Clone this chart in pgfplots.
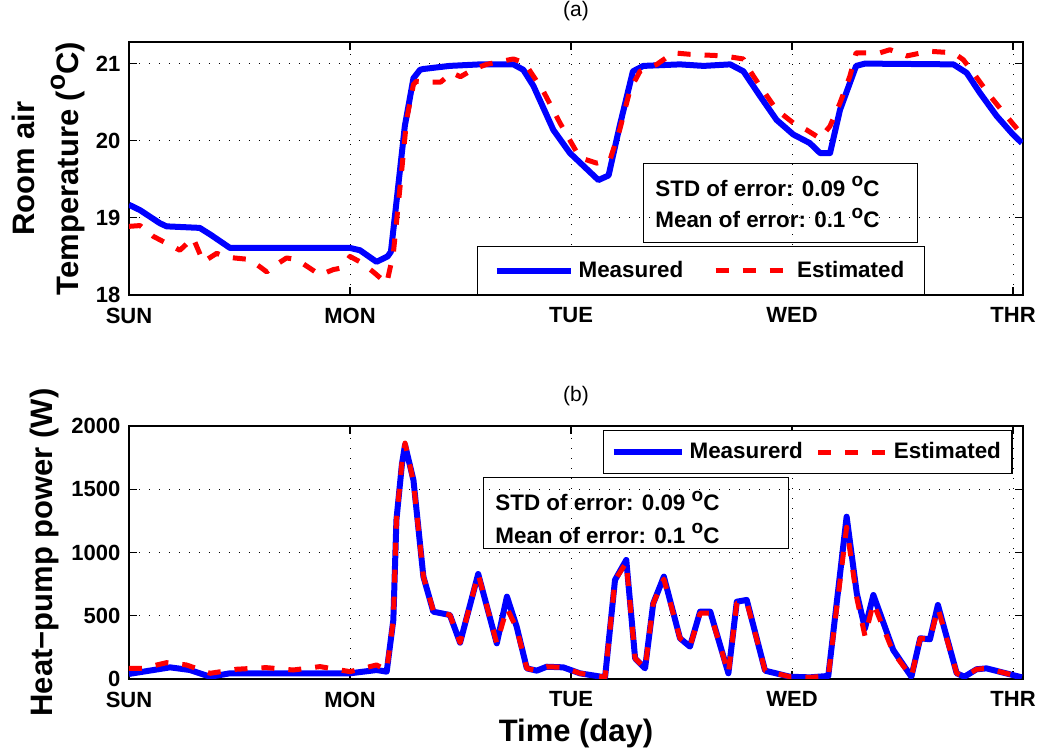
\documentclass[border=0pt]{standalone}
\usepackage{fontspec}
\setmainfont{Liberation Sans}
\usepackage{pgfplots}
\pgfplotsset{compat=1.18}

\newcommand{\dg}{\raisebox{0.42em}{\scalebox{0.85}{o}}}

\pgfplotsset{
  panel/.style={
    scale only axis, width=447pt, height=126.5pt,
    xmin=0, xmax=4.045,
    xtick={0,1,2,3,4}, xticklabels={SUN,MON,TUE,WED,THR},
    tick align=inside,
    grid=major,
    major grid style={black, line width=0.5pt, dash pattern=on 0.5pt off 4.5pt},
    axis line style={line width=0.6pt},
    every tick/.style={black, line width=0.6pt},
    major tick length=4pt,
    ticklabel style={font=\bfseries\fontsize{11}{13}\selectfont},
    xticklabel style={yshift=-2.8pt},
    yticklabel style={xshift=-0.8pt},
    /pgf/number format/assume math mode=true,
    /pgf/number format/1000 sep={},
    title style={font=\fontsize{10.5}{12}\selectfont, at={(axis description cs:0.5,1)}, anchor=base, yshift=6.5pt},
    label style={font=\bfseries\fontsize{15.5}{22}\selectfont},
    legend cell align=left,
    legend style={draw=black, line width=0.6pt, fill=white,
      font=\bfseries\fontsize{11.2}{13}\selectfont, legend columns=2},
  },
  meas/.style={blue, line width=3pt, line join=round},
  est/.style={red, line width=2.5pt, line join=round, dash pattern=on 6.5pt off 7pt},
}
\tikzset{
  boxtxt/.style={font=\bfseries\fontsize{11.2}{13}\selectfont, anchor=base west, inner sep=0pt},
}

\begin{document}
\begin{tikzpicture}
\useasboundingbox (0,0) rectangle (520.5pt,-377pt);

% (a) room air temperature
\begin{axis}[panel,
    at={(64.5pt,-147.5pt)}, anchor=south west,
    ymin=18, ymax=21.28, ytick={18,19,20,21},
    title={(a)},
    ylabel={Room air\\Temperature (\dg C)},
    ylabel style={align=center, at={(axis description cs:-0.0906,0.5)}, anchor=center},
    legend style={at={(axis description cs:0.3893,0.1937)}, anchor=north west,
      inner xsep=8pt, inner ysep=5.25pt,
      /tikz/every odd column/.append style={column sep=0.5pt},
      /tikz/every even column/.append style={column sep=13pt}},
    legend image code/.code={\draw[#1] (0pt,0pt) -- (37pt,0pt);},
  ]
  \addplot[meas] coordinates {
    (0,19.17) (0.05,19.10) (0.14,18.93) (0.17,18.89) (0.32,18.87) (0.37,18.78)
    (0.457,18.61) (1.0,18.61) (1.045,18.58) (1.12,18.43) (1.17,18.50) (1.185,18.56)
    (1.21,19.20) (1.248,20.19) (1.287,20.81) (1.317,20.92) (1.332,20.93) (1.45,20.97)
    (1.588,20.99) (1.739,20.99) (1.784,20.92) (1.83,20.71) (1.92,20.14) (1.995,19.84)
    (2.124,19.49) (2.17,19.55) (2.22,20.19) (2.28,20.90) (2.327,20.97) (2.493,20.99)
    (2.6,20.97) (2.72,20.99) (2.78,20.90) (2.855,20.58) (2.93,20.27) (3.006,20.08)
    (3.08,19.97) (3.127,19.84) (3.172,19.84) (3.217,20.40) (3.29,20.97) (3.33,21.0)
    (3.73,20.99) (3.79,20.88) (3.85,20.62) (3.926,20.32) (4.0,20.08) (4.04,19.97)
  };
  \addplot[est] coordinates {
    (0,18.89) (0.05,18.90) (0.11,18.76) (0.23,18.58) (0.29,18.74) (0.336,18.43)
    (0.397,18.54) (0.442,18.49) (0.548,18.46) (0.623,18.30) (0.653,18.37) (0.713,18.48)
    (0.759,18.46) (0.864,18.26) (0.925,18.33) (0.962,18.35) (1.0,18.50) (1.045,18.43)
    (1.105,18.30) (1.166,18.15) (1.196,18.54) (1.234,19.62) (1.256,20.27) (1.287,20.73)
    (1.30,20.77) (1.362,20.76) (1.41,20.76) (1.46,20.88) (1.50,20.83) (1.56,20.93)
    (1.618,20.99) (1.739,21.06) (1.79,21.01) (1.875,20.64) (1.95,20.23) (2.04,19.78)
    (2.116,19.71) (2.176,19.75) (2.22,20.14) (2.267,20.66) (2.312,20.90) (2.388,20.99)
    (2.463,21.14) (2.54,21.12) (2.69,21.10) (2.78,21.06) (2.795,20.97) (2.855,20.71)
    (2.93,20.40) (3.006,20.23) (3.066,20.14) (3.127,20.03) (3.172,20.19) (3.217,20.49)
    (3.262,20.84) (3.29,21.14) (3.398,21.14) (3.443,21.18) (3.52,21.10) (3.62,21.16)
    (3.73,21.14) (3.775,21.05) (3.82,20.88) (3.896,20.58) (3.97,20.32) (4.04,20.08)
  };
  \legend{Measured, Estimated}
  \node[draw=black, line width=0.6pt, anchor=north west, minimum width=137pt,
        minimum height=39.5pt, inner sep=0pt] at (axis description cs:0.575,0.5217) {};
  \node[boxtxt] at (axis description cs:0.5884,0.391) {STD of error: 0.09 \dg C};
  \node[boxtxt] at (axis description cs:0.5884,0.265) {Mean of error: 0.1 \dg C};
\end{axis}

% (b) heat-pump power
\begin{axis}[panel,
    at={(64.5pt,-339.5pt)}, anchor=south west,
    ymin=0, ymax=2000, ytick={0,500,1000,1500,2000},
    title={(b)},
    xlabel={Time (day)},
    xlabel style={at={(axis description cs:0.5,-0.249)}, anchor=base},
    ylabel={Heat−pump power (W)},
    ylabel style={at={(axis description cs:-0.094,0.5)}, anchor=center},
    legend style={at={(axis description cs:0.5302,0.9842)}, anchor=north west,
      inner xsep=3.5pt, inner ysep=4pt,
      /tikz/every odd column/.append style={column sep=0.5pt},
      /tikz/every even column/.append style={column sep=4.5pt}},
    legend image code/.code={\draw[#1] (0pt,0pt) -- (34pt,0pt);},
  ]
  \addplot[meas] coordinates {
    (0,40) (0.186,92) (0.276,71) (0.367,18) (0.457,45) (1.0,45) (1.12,71) (1.166,58)
    (1.196,466) (1.21,1257) (1.235,1700) (1.249,1850) (1.287,1573) (1.332,809)
    (1.377,532) (1.452,506) (1.498,287) (1.58,830) (1.664,282) (1.71,651) (1.754,414)
    (1.80,84) (1.845,66) (1.89,97) (1.965,92) (2.04,45) (2.154,13) (2.199,783)
    (2.25,941) (2.29,163) (2.335,84) (2.372,598) (2.42,809) (2.493,322) (2.538,256)
    (2.584,532) (2.63,532) (2.712,45) (2.75,611) (2.795,625) (2.878,66) (2.99,18)
    (3.08,13) (3.164,24) (3.247,1283) (3.293,677) (3.33,400) (3.368,664) (3.458,229)
    (3.54,18) (3.58,322) (3.624,314) (3.66,585) (3.745,45) (3.78,18) (3.835,77)
    (3.88,84) (4.04,13)
  };
  \addplot[est] coordinates {
    (0,84) (0.06,84) (0.17,129) (0.26,111) (0.367,45) (0.487,77) (0.62,90) (0.743,71)
    (0.864,98) (1.0,58) (1.12,111) (1.166,70) (1.196,466) (1.21,1257) (1.235,1710)
    (1.249,1865) (1.287,1560) (1.332,809) (1.377,540) (1.452,506) (1.498,287) (1.58,830)
    (1.664,282) (1.71,560) (1.754,400) (1.80,84) (1.845,66) (1.89,97) (1.965,92)
    (2.04,45) (2.154,13) (2.199,783) (2.25,920) (2.29,163) (2.335,84) (2.372,598)
    (2.42,790) (2.493,322) (2.538,256) (2.584,520) (2.63,520) (2.712,45) (2.75,600)
    (2.795,610) (2.878,66) (2.99,18) (3.08,13) (3.164,24) (3.247,1200) (3.293,640)
    (3.33,340) (3.368,600) (3.458,210) (3.54,18) (3.58,322) (3.624,314) (3.66,560)
    (3.745,45) (3.78,18) (3.835,77) (3.88,84) (4.04,13)
  };
  \legend{Measurerd, Estimated}
  \node[draw=black, line width=0.6pt, anchor=north west, minimum width=152.5pt,
        minimum height=35.5pt, inner sep=0pt] at (axis description cs:0.396,0.798) {};
  \node[boxtxt] at (axis description cs:0.4094,0.6656) {STD of error: 0.09 \dg C};
  \node[boxtxt] at (axis description cs:0.4094,0.5375) {Mean of error: 0.1 \dg C};
\end{axis}
\end{tikzpicture}
\end{document}
